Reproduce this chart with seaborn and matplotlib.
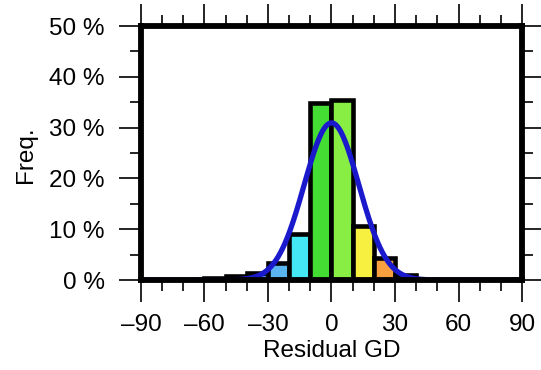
import numpy as np
import pandas as pd
import matplotlib
matplotlib.use("Agg")
import matplotlib.pyplot as plt
import seaborn as sns
from matplotlib.ticker import MultipleLocator, FuncFormatter

# data
bin_edges = [-60, -50, -40, -30, -20, -10, 0, 10, 20, 30, 40]
bin_centers = [-55, -45, -35, -25, -15, -5, 5, 15, 25, 35]
freq_pct = [0.4, 0.8, 1.4, 3.4, 9.0, 34.9, 35.4, 10.7, 4.3, 1.0]
bar_colors = ["#2a2a8a", "#3050c0", "#4080e0", "#5ab4f0", "#44e8f4",
              "#44dd33", "#88ee44", "#f8f040", "#f8a040", "#f06030"]
fit_mu = 0.0
fit_sigma = 12.9
x_ticks = [-90, -60, -30, 0, 30, 60, 90]
y_ticks = [0, 10, 20, 30, 40, 50]

sns.set_style("white")
plt.rcParams["font.family"] = ["Liberation Sans", "DejaVu Sans"]
plt.rcParams["text.color"] = "black"
plt.rcParams["axes.labelcolor"] = "black"
plt.rcParams["xtick.color"] = "black"
plt.rcParams["ytick.color"] = "black"

FS = 17.5

fig = plt.figure(figsize=(5.41, 3.70), dpi=100)
ax = fig.add_axes([0.2606, 0.2432, 0.7043, 0.6865])

df = pd.DataFrame({"x": bin_centers, "w": freq_pct})
sns.histplot(data=df, x="x", weights="w", bins=bin_edges, ax=ax,
             edgecolor="black", linewidth=3.3, alpha=1.0)
for p, c in zip(ax.patches, bar_colors):
    p.set_facecolor(c)
    p.set_edgecolor("black")

xs = np.linspace(-90, 90, 721)
ys = 10.0 / (fit_sigma * np.sqrt(2 * np.pi)) * np.exp(-0.5 * ((xs - fit_mu) / fit_sigma) ** 2) * 100
sns.lineplot(x=xs, y=ys, ax=ax, color="#1a1acc", linewidth=3.8)

ax.set_xlim(-90, 90)
ax.set_ylim(0, 50)
ax.set_xticks(x_ticks)
ax.set_yticks(y_ticks)
ax.xaxis.set_minor_locator(MultipleLocator(10))
ax.yaxis.set_minor_locator(MultipleLocator(5))
ax.yaxis.set_major_formatter(FuncFormatter(lambda v, p: f"{int(v)} %"))
ax.xaxis.set_major_formatter(FuncFormatter(lambda v, p: f"{int(v)}".replace("-", "\u2013")))

ax.tick_params(axis="both", which="both", direction="out", width=1.2, color="black",
               top=True, right=True, bottom=True, left=True, labelsize=FS)
ax.tick_params(axis="both", which="major", length=16)
ax.tick_params(axis="both", which="minor", length=8)
ax.tick_params(axis="y", which="major", pad=10)
ax.tick_params(axis="x", which="major", pad=8.5)

for s in ax.spines.values():
    s.set_visible(True)
    s.set_linewidth(4.2)
    s.set_color("black")

ax.set_xlabel("Residual GD", fontsize=FS)
ax.set_ylabel("Freq.", fontsize=FS)
ax.xaxis.set_label_coords(0.5, -0.238)
ax.yaxis.set_label_coords(-0.273, 0.494)

fig.savefig("out.png", dpi=100)
